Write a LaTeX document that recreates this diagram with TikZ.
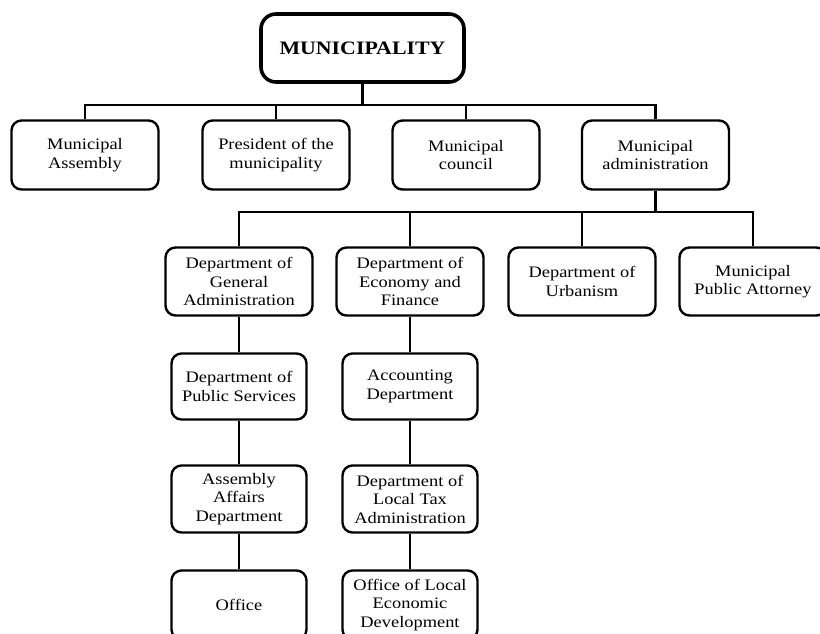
\documentclass[tikz,border=0pt]{standalone}
\usepackage{fontspec}
\setmainfont{Liberation Serif}[FakeStretch=1.15]
\begin{document}
\begin{tikzpicture}[x=1pt,y=-1pt,
  box/.style={draw, line width=2.4pt, rounded corners=10pt, align=center,
    font=\fontsize{16}{18.5}\selectfont, inner sep=0pt},
  wbox/.style={box, minimum width=147pt, minimum height=69pt},
  nbox/.style={box, minimum width=135pt, minimum height=66pt},
  topbox/.style={draw, line width=3.6pt, rounded corners=15pt, align=center,
    font=\fontsize{19}{22}\selectfont\bfseries, minimum width=203pt, minimum height=68pt},
  link/.style={line width=2.4pt}]
\useasboundingbox (0,0) rectangle (820,633);
\node[topbox] (muni) at (362.5,48) {MUNICIPALITY};
\node[wbox] (ma) at (85,155) {Municipal\\Assembly};
\node[wbox] (pres) at (276,155) {President of the\\municipality};
\node[wbox] (council) at (466,155) {Municipal\\council};
\node[wbox] (admin) at (655.5,155) {Municipal\\administration};
\node[wbox, minimum height=68pt] (gen) at (239,281.5) {Department of\\General\\Administration};
\node[wbox, minimum height=68pt] (eco) at (410,281.5) {Department of\\Economy and\\Finance};
\node[wbox, minimum height=68pt] (urb) at (582,281.5) {Department of\\Urbanism};
\node[wbox, minimum height=68pt] (att) at (753,281.5) {Municipal\\Public Attorney};
\node[nbox] (pub) at (239,386.5) {Department of\\Public Services};
\node[nbox] (acc) at (410,386.5) {Accounting\\Department};
\node[nbox, minimum height=67pt] (aff) at (239,499) {Assembly\\Affairs\\Department};
\node[nbox, minimum height=67pt] (tax) at (410,499) {Department of\\Local Tax\\Administration};
\node[nbox, minimum height=69pt] (off) at (239,605) {Office};
\node[nbox, minimum height=69pt] (led) at (410,605) {Office of Local\\Economic\\Development};
\coordinate (b1) at (0,105);
\coordinate (b2) at (0,212);
\draw[link] (muni.south) -- (muni.south |- b1);
\draw[link] (ma.north) -- (ma.north |- b1) -| (admin.north);
\draw[link] (pres.north) -- (pres.north |- b1);
\draw[link] (council.north) -- (council.north |- b1);
\draw[link] (admin.south) -- (admin.south |- b2);
\draw[link] (gen.north) -- (gen.north |- b2) -| (att.north);
\draw[link] (eco.north) -- (eco.north |- b2);
\draw[link] (urb.north) -- (urb.north |- b2);
\draw[link] (gen) -- (pub);
\draw[link] (pub) -- (aff);
\draw[link] (aff) -- (off);
\draw[link] (eco) -- (acc);
\draw[link] (acc) -- (tax);
\draw[link] (tax) -- (led);
\end{tikzpicture}
\end{document}
